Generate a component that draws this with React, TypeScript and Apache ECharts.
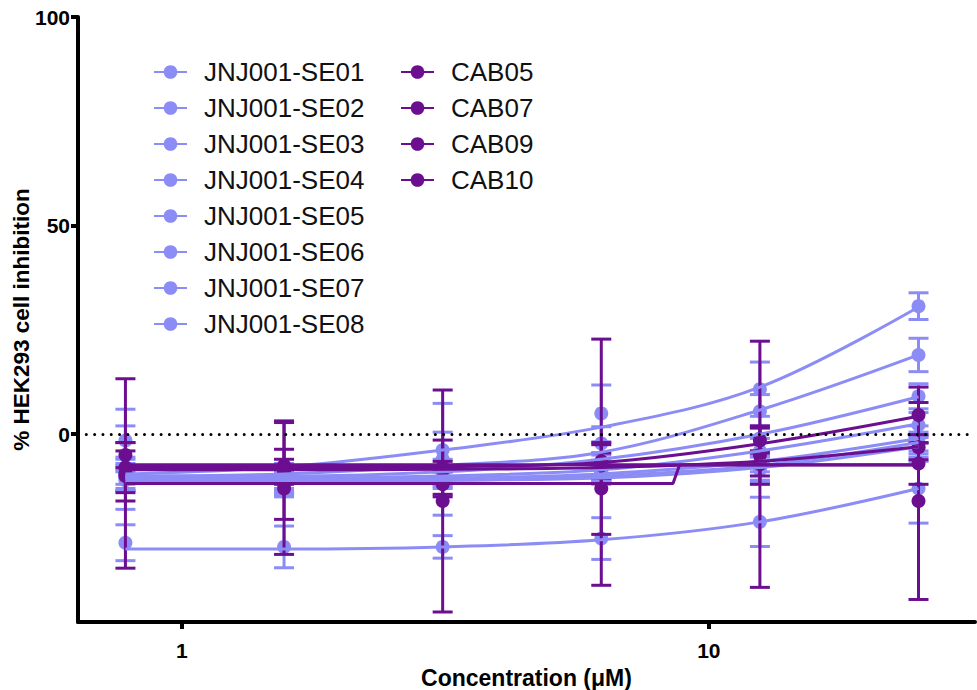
import React, { useEffect, useRef } from 'react';
import * as echarts from 'echarts';

const concentrations = [0.78125, 1.5625, 3.125, 6.25, 12.5, 25];
const xTickValues = [1, 10];
const yTickValues = [0, 50, 100];

const jnjNames = ['JNJ001-SE01', 'JNJ001-SE02', 'JNJ001-SE03', 'JNJ001-SE04', 'JNJ001-SE05', 'JNJ001-SE06', 'JNJ001-SE07', 'JNJ001-SE08'];
const cabNames = ['CAB05', 'CAB07', 'CAB09', 'CAB10'];

// means, error (SD) and fitted curve values
const se01Mean = [-8, -10, -3.8, 5, 10.8, 30.7];
const se01Err = [10, 3, 4.3, 6.8, 6.5, 3.2];
const se01Fit = [-9.5, -7.8, -3.8, 1.7, 11.3, 30.5];

const se02Mean = [-9, -11, -6, -2.2, 5.5, 19];
const se02Err = [3, 3, 13.4, 4, 4, 4];
const se02Fit = [-10, -9.5, -7.5, -4.3, 5.8, 19];

const se03Mean = [-1.5, -10.5, -9, -8, -1, 9.1];
const se03Err = [7.5, 3, 3, 3, 3, 3];
const se03Fit = [-10, -10, -9, -6, 0, 9];

const se04Mean = [-9.5, -11, -9.5, -9, -4, 2.2];
const se04Err = [4, 3, 2, 2, 3, 3];
const se04Fit = [-10.5, -10.5, -10, -8.5, -4, 2.5];

const se05Mean = [-10, -11.5, -10, -9.5, -7, -1];
const se05Err = [3, 3, 2, 2, 2, 3];
const se05Fit = [-10.5, -11, -10.5, -9.5, -6.5, -1];

const se06Mean = [-10.5, -12, -10.5, -10, -8, -2.5];
const se06Err = [3, 3, 2, 2, 3, 3];
const se06Fit = [-11, -11, -11, -10, -7.5, -2];

const se07Mean = [-11, -11, -11, -9, -8.5, -3.5];
const se07Err = [2.5, 3, 2, 2, 3, 3];
const se07Fit = [-11.5, -11.5, -11, -10.5, -8, -3];

const se08Mean = [-26, -27, -27, -25, -21, -13];
const se08Err = [4.3, 5, 2.7, 5, 5.9, 8.3];
const se08Fit = [-27.5, -27.5, -27, -25.3, -21, -13];

const cab05Mean = [-5, -7.5, -7.9, -6.5, -1.5, 4.6];
const cab05Err = [3, 3.9, 6.5, 4, 3, 6.7];
const cab05Fit = [-8, -8, -7.8, -6.8, -2.3, 4.3];

const cab07Mean = [-8, -8.6, -12, -13, -5, -3.1];
const cab07Err = [6, 11.8, 3, 11, 7, 3];
const cab07Fit = [-8.5, -8.5, -8.4, -8, -6.5, -3];

const cab09Mean = [-9.4, -13, -16, -6.7, -7.2, -16];
const cab09Err = [22.7, 15.8, 26.6, 29.5, 29.5, 23.6];
const cab09FitX = [0.78125, 8.55, 8.8, 25];
const cab09Fit = [-11.8, -11.8, -7.4, -7.4];

const cab10Mean = [-10, -9, -8.5, -7.5, -7, -7];
const cab10Err = [6, 3, 2, 3, 3, 5];
const cab10Fit = [-7.3, -7.3, -7.3, -7.3, -7.3, -7.3];

const LIGHT = '#8c8cf6';
const DARK = '#6b0e90';
const FONT = '"Liberation Sans", Arial, Helvetica, sans-serif';

type Grp = { name: string; mean: number[]; err: number[]; fitX: number[]; fitY: number[]; color: string; smooth: boolean };

const groups: Grp[] = [
  { name: jnjNames[0], mean: se01Mean, err: se01Err, fitX: concentrations, fitY: se01Fit, color: LIGHT, smooth: true },
  { name: jnjNames[1], mean: se02Mean, err: se02Err, fitX: concentrations, fitY: se02Fit, color: LIGHT, smooth: true },
  { name: jnjNames[2], mean: se03Mean, err: se03Err, fitX: concentrations, fitY: se03Fit, color: LIGHT, smooth: true },
  { name: jnjNames[3], mean: se04Mean, err: se04Err, fitX: concentrations, fitY: se04Fit, color: LIGHT, smooth: true },
  { name: jnjNames[4], mean: se05Mean, err: se05Err, fitX: concentrations, fitY: se05Fit, color: LIGHT, smooth: true },
  { name: jnjNames[5], mean: se06Mean, err: se06Err, fitX: concentrations, fitY: se06Fit, color: LIGHT, smooth: true },
  { name: jnjNames[6], mean: se07Mean, err: se07Err, fitX: concentrations, fitY: se07Fit, color: LIGHT, smooth: true },
  { name: jnjNames[7], mean: se08Mean, err: se08Err, fitX: concentrations, fitY: se08Fit, color: LIGHT, smooth: true },
  { name: cabNames[0], mean: cab05Mean, err: cab05Err, fitX: concentrations, fitY: cab05Fit, color: DARK, smooth: true },
  { name: cabNames[1], mean: cab07Mean, err: cab07Err, fitX: concentrations, fitY: cab07Fit, color: DARK, smooth: true },
  { name: cabNames[2], mean: cab09Mean, err: cab09Err, fitX: cab09FitX, fitY: cab09Fit, color: DARK, smooth: false },
  { name: cabNames[3], mean: cab10Mean, err: cab10Err, fitX: concentrations, fitY: cab10Fit, color: DARK, smooth: true },
];

function buildSeries() {
  const out: any[] = [];
  groups.forEach((g, gi) => {
    const line: any = {
      type: 'line',
      name: g.name,
      data: g.fitX.map((x, i) => [x, g.fitY[i]]),
      smooth: g.smooth ? 0.35 : false,
      symbol: 'circle',
      symbolSize: 14,
      showSymbol: false,
      silent: true,
      lineStyle: { width: 3, color: g.color },
      itemStyle: { color: g.color },
    };
    if (gi === 0) {
      line.markLine = {
        silent: true,
        symbol: 'none',
        label: { show: false },
        lineStyle: { color: '#000', width: 3, type: [0.01, 8.3], cap: 'round' },
        data: [{ yAxis: 0 }],
      };
    }
    out.push(line);
    const color = g.color;
    out.push({
      type: 'custom',
      name: g.name + ' data',
      silent: true,
      data: concentrations.map((x, i) => [x, g.mean[i], g.mean[i] - g.err[i], g.mean[i] + g.err[i]]),
      encode: { x: 0, y: [1, 2, 3] },
      renderItem: (params: any, api: any) => {
        const x = api.value(0);
        const pm = api.coord([x, api.value(1)]);
        const pl = api.coord([x, api.value(2)]);
        const ph = api.coord([x, api.value(3)]);
        const hw = 10;
        const st = { stroke: color, lineWidth: 3 };
        return {
          type: 'group',
          children: [
            { type: 'line', shape: { x1: pl[0], y1: pl[1], x2: ph[0], y2: ph[1] }, style: st },
            { type: 'line', shape: { x1: pl[0] - hw, y1: pl[1], x2: pl[0] + hw, y2: pl[1] }, style: st },
            { type: 'line', shape: { x1: ph[0] - hw, y1: ph[1], x2: ph[0] + hw, y2: ph[1] }, style: st },
            { type: 'circle', shape: { cx: pm[0], cy: pm[1], r: 7 }, style: { fill: color } },
          ],
        };
      },
    });
  });
  return out;
}

const legendCommon = {
  orient: 'vertical',
  top: 54,
  itemWidth: 33,
  itemHeight: 17,
  itemGap: 10,
  selectedMode: false,
  textStyle: { fontSize: 26, lineHeight: 26, color: '#111', fontFamily: FONT, padding: [0, 0, 0, 12] },
};

export default function App() {
  const ref = useRef<HTMLDivElement>(null);
  useEffect(() => {
    const chart = echarts.init(ref.current!, null, { renderer: 'svg' });
    chart.setOption({
      animation: false,
      backgroundColor: '#fff',
      grid: { left: 78, right: 2, top: 17, bottom: 68, containLabel: false, outerBoundsMode: 'none' },
      legend: [
        { ...legendCommon, left: 148, data: jnjNames },
        { ...legendCommon, left: 395, data: cabNames },
      ],
      xAxis: {
        type: 'log',
        logBase: 10,
        min: 0.635,
        max: 32,
        name: 'Concentration (μM)',
        nameLocation: 'middle',
        nameGap: 44,
        nameTextStyle: { fontSize: 23, fontWeight: 'bold', color: '#000', fontFamily: FONT },
        axisLine: { onZero: false, lineStyle: { color: '#000', width: 4 } },
        axisTick: { length: 7, lineStyle: { color: '#000', width: 4 }, customValues: xTickValues },
        axisLabel: { customValues: xTickValues, fontSize: 21, fontWeight: 'bold', color: '#000', fontFamily: FONT, margin: 18 },
        splitLine: { show: false },
        minorTick: { show: false },
      },
      yAxis: {
        type: 'value',
        min: -45,
        max: 100,
        name: '% HEK293 cell inhibition',
        nameLocation: 'middle',
        nameGap: 45,
        nameMoveOverlap: false,
        nameTextStyle: { fontSize: 22.5, fontWeight: 'bold', color: '#000', fontFamily: FONT },
        axisLine: { onZero: false, lineStyle: { color: '#000', width: 4 } },
        axisTick: { length: 7, lineStyle: { color: '#000', width: 4 }, customValues: yTickValues },
        axisLabel: { customValues: yTickValues, fontSize: 21, fontWeight: 'bold', color: '#000', fontFamily: FONT, margin: 8 },
        splitLine: { show: false },
      },
      series: buildSeries(),
    });
    return () => chart.dispose();
  }, []);
  return <div ref={ref} style={{ position: 'fixed', left: 0, top: 0, width: 977, height: 690, background: '#fff' }} />;
}
